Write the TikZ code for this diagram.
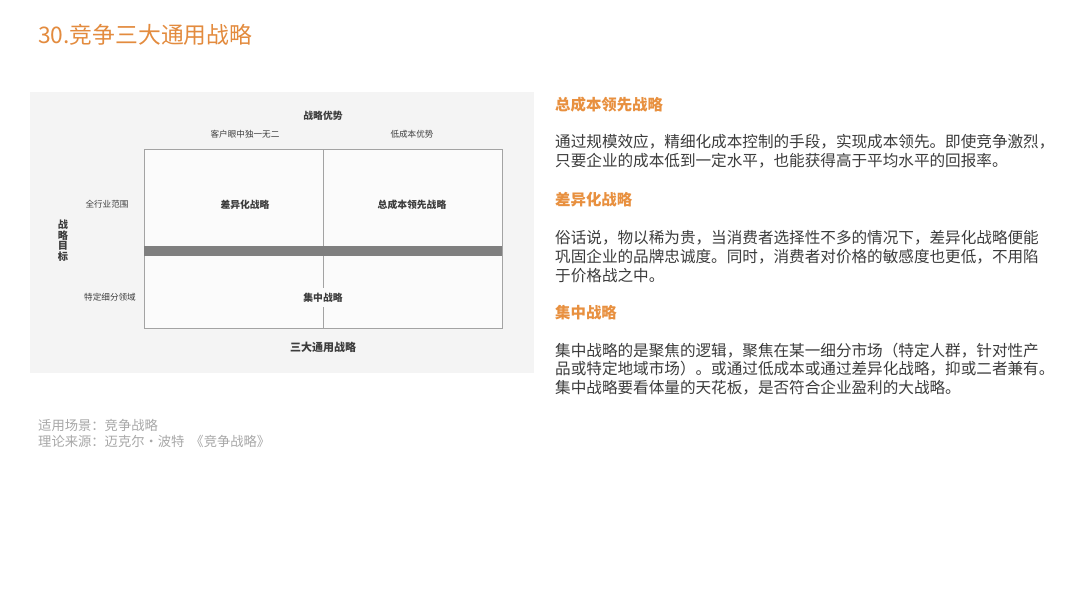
\documentclass[tikz,border=0pt]{standalone}
\usepackage{fontspec}
\newfontfamily\cjk{Noto Sans CJK SC}
\usetikzlibrary{positioning}
\definecolor{titleorange}{HTML}{E38B3E}
\definecolor{headorange}{HTML}{E8903F}
\definecolor{bodygray}{HTML}{3C3C3C}
\definecolor{panelgray}{HTML}{F4F4F4}
\definecolor{cellgray}{HTML}{FBFBFB}
\definecolor{linegray}{HTML}{A3A3A3}
\definecolor{bargray}{HTML}{7F7F7F}
\definecolor{notegray}{HTML}{A8A8A8}
\tikzstyle{gridlabel} = [anchor=center, inner sep=0pt,
		text=bodygray, font=\cjk\fontsize{8.6}{10}\selectfont]
\tikzstyle{cellname} = [anchor=center, inner sep=1pt,
		text=bodygray, font=\cjk\bfseries\fontsize{9.8}{11}\selectfont]
\tikzstyle{stratname} = [anchor=west, inner sep=0pt,
		text=headorange, font=\cjk\bfseries\fontsize{15.4}{18}\selectfont]
\tikzstyle{para} = [anchor=west, inner sep=0pt, align=left,
		text=bodygray, font=\cjk\fontsize{15.6}{18.8}\selectfont]
\tikzstyle{note} = [anchor=west, inner sep=0pt, align=left,
		text=notegray, font=\cjk\fontsize{13.3}{16}\selectfont]

\begin{document}
\begin{tikzpicture}[x=1pt, y=-1pt]
	\useasboundingbox (0,0) rectangle (1080,608);
	\fill[white] (0,0) rectangle (1080,608);

	\node[anchor=west, inner sep=0pt, text=titleorange,
		font=\cjk\fontsize{22.8}{27}\selectfont] (title) at (38,35) {30.竞争三大通用战略};

	% matrix panel
	\fill[panelgray] (30,92) rectangle (534,373);
	\draw[linegray, fill=cellgray, line width=0.8pt] (144,149) rectangle (502,328.7);
	\draw[linegray, line width=0.8pt] (323,149) -- (323,328.7);
	\fill[bargray] (144,246) rectangle (502,256);

	\node[cellname] (adv) at (323,116) {战略优势};
	\node[gridlabel] (unique) at (245,134) {客户眼中独一无二};
	\node[gridlabel] (lowcost) at (412,134) {低成本优势};
	\node[gridlabel] (wide) at (107,204.5) {全行业范围};
	\node[gridlabel] (narrow) at (110,297) {特定细分领域};
	\node[cellname, align=center, font=\cjk\bfseries\fontsize{10.2}{10.6}\selectfont]
		(target) at (63,240.5) {战\\略\\目\\标};

	\node[cellname] (diff) at (245,205) {差异化战略};
	\node[cellname] (cost) at (412,205) {总成本领先战略};
	\node[cellname, fill=cellgray, inner xsep=3pt, inner ysep=5pt] (focus) at (323,297.5) {集中战略};
	\node[cellname, font=\cjk\bfseries\fontsize{11}{13}\selectfont] (three) at (323,347) {三大通用战略};

	% right-hand text
	\node[stratname] (h1) at (555,105) {总成本领先战略};
	\node[para] (p1) at (555,151) {通过规模效应，精细化成本控制的手段，实现成本领先。即使竞争激烈，\\只要企业的成本低到一定水平，也能获得高于平均水平的回报率。};
	\node[stratname] (h2) at (555,199.5) {差异化战略};
	\node[para] (p2) at (555,256.3) {俗话说，物以稀为贵，当消费者选择性不多的情况下，差异化战略便能\\巩固企业的品牌忠诚度。同时，消费者对价格的敏感度也更低，不用陷\\于价格战之中。};
	\node[stratname] (h3) at (555,312.7) {集中战略};
	\node[para] (p3) at (555,369) {集中战略的是聚焦的逻辑，聚焦在某一细分市场（特定人群，针对性产\\品或特定地域市场）。或通过低成本或通过差异化战略，抑或二者兼有。\\集中战略要看体量的天花板，是否符合企业盈利的大战略。};

	\node[note] (scene) at (38,425) {适用场景：竞争战略};
	\node[note] (source) at (38,441) {理论来源：迈克尔·波特 \ 《竞争战略》};
\end{tikzpicture}
\end{document}
